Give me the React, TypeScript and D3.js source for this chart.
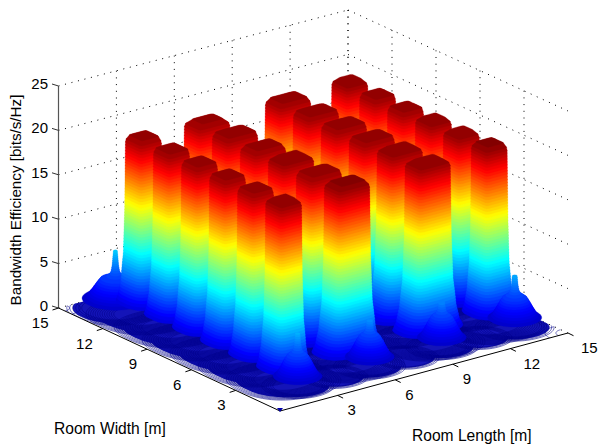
import React, { useMemo } from "react";
import * as d3 from "d3";

const zTicks = [0, 5, 10, 15, 20, 25];
const lengthTicks = [3, 6, 9, 12, 15];
const widthTicks = [3, 6, 9, 12, 15];
const pillarLengths = [2.3, 5.6, 9.8, 13.0];
const pillarStretch = [1, 1.45, 1.45, 1];
const pillarWidths = [2.75, 4.65, 6.55, 8.45, 10.35, 12.25];
const pillarPeaks = [
  [20.4, 20.5, 20.4, 20.5],
  [20.3, 20.3, 20.4, 20.4],
  [20.3, 20.4, 20.3, 20.4],
  [20.3, 20.2, 20.3, 20.3],
  [20.3, 20.3, 20.3, 20.3],
  [20.2, 20.1, 20.2, 20.4],
];
const spikeLengths = [2.3, 6.05, 9.8, 13.6, 1.8];
const spikeWidths = [1.8, 1.8, 1.8, 1.8, 13.5];
const spikePeaks = [6.0, 5.3, 5.2, 5.9, 6.6];
const spikeSpread = [1.0, 1.0, 1.0, 1.1, 1.35];
const edgeLengths = [4.2, 7.9, 11.7];
const edgeWidths = [1.75, 1.75, 1.75];

// silhouette profiles: height, half size, squareness
const pillarProfileZ = [1.6, 2.3, 4, 7, 12, 20];
const pillarProfileA = [1.05, 0.92, 0.78, 0.66, 0.6, 0.565];
const pillarProfileN = [2.6, 3, 4, 6, 8, 10];
const capDrop = [0.6, 0.35, 0.15, 0];
const capA = [0.56, 0.54, 0.48, 0.36];
const hillProfileZ = [1.2, 1.5, 2.2, 3, 3.6, 4.0, 4.3, 5, 6.6];
const hillProfileR = [1.0, 0.85, 0.7, 0.55, 0.42, 0.22, 0.17, 0.13, 0.08];
const floorRadiiPillar = [2.24, 2.15, 2.06, 1.97, 1.88, 1.79, 1.7, 1.61, 1.52, 1.43, 1.34, 1.25, 1.16];
const floorRadiiHill = [1.46, 1.37, 1.28, 1.19, 1.1, 1.01];
const floorRadiiEdge = [1.34, 1.25, 1.16, 1.07];
const floorBaseRadius = 1.9;
const cornerLengths = [0, 0, 15, 15];
const cornerWidths = [15, 15, 0, 0];
const cornerRadii = [0.45, 0.9, 0.5, 0.95];

const jetStops = [0, 0.125, 0.375, 0.625, 0.875, 1];
const jetColors = ["#00008f", "#0000ff", "#00ffff", "#ffff00", "#ff0000", "#800000"];

const W = 598;
const H = 448;
const O = [280, 411];
const L = [568, 333];
const Wd = [58.5, 308];
const B = [348, 232];
const skew = [B[0] - (L[0] + Wd[0] - O[0]), B[1] - (L[1] + Wd[1] - O[1])];
const xs = d3.scaleLinear().domain([0, 15]).range([0, 1]);
const ys = d3.scaleLinear().domain([0, 15]).range([0, 1]);
const zs = d3.scaleLinear().domain([0, 25]).range([0, 222]);
const project = (x: number, y: number, z = 0): [number, number] => {
  const u = xs(x);
  const v = ys(y);
  return [
    O[0] + u * (L[0] - O[0]) + v * (Wd[0] - O[0]) + u * v * skew[0],
    O[1] + u * (L[1] - O[1]) + v * (Wd[1] - O[1]) + u * v * skew[1] - zs(z),
  ];
};
const jet = d3.scaleLinear<string>().domain(jetStops).range(jetColors).interpolate(d3.interpolateRgb).clamp(true);
const colorAt = d3.scaleLinear().domain([0, 20.8]).range([0, 1]);
const zColor = (z: number) => jet(colorAt(z));
const lineGen = d3.line().curve(d3.curveLinearClosed);
const angles = d3.range(0, 2 * Math.PI, Math.PI / 32);

const ring = (cx: number, cy: number, z: number, a: number, n: number, stretch = 1) =>
  angles.map((t) => {
    const c = Math.cos(t);
    const s = Math.sin(t);
    const dx = stretch * a * Math.sign(c) * Math.pow(Math.abs(c), 2 / n);
    const dy = a * Math.sign(s) * Math.pow(Math.abs(s), 2 / n);
    return project(cx + dx, cy + dy, z);
  });
const footprint = (cx: number, cy: number, z: number, a: number, n: number) =>
  lineGen(ring(cx, cy, z, a, n)) as string;
const hullPath = (lo: [number, number][], hi: [number, number][]) =>
  lineGen(d3.polygonHull([...lo, ...hi]) as [number, number][]) as string;

const pillarA = d3.scaleLinear().domain(pillarProfileZ).range(pillarProfileA).clamp(true);
const pillarN = d3.scaleLinear().domain(pillarProfileZ).range(pillarProfileN).clamp(true);
const hillR = d3.scaleLinear().domain(hillProfileZ).range(hillProfileR).clamp(true);
const capScale = d3.scaleLinear().domain(capDrop).range(capA).clamp(true);

type Slice = { d: string; color: string };

function buildFloor() {
  const base: string[] = [];
  const rings: string[] = [];
  pillarLengths.forEach((x) =>
    pillarWidths.forEach((y) => {
      base.push(footprint(x, y, 0.05, floorBaseRadius, 2.4));
      floorRadiiPillar.forEach((r) => rings.push(footprint(x, y, 0.05, r, 2.4)));
    })
  );
  spikeLengths.forEach((x, i) => {
    base.push(footprint(x, spikeWidths[i], 0.1, floorRadiiHill[2] * spikeSpread[i], 2.1));
    floorRadiiHill.forEach((r) => rings.push(footprint(x, spikeWidths[i], 0.1, r * spikeSpread[i], 2.1)));
  });
  edgeLengths.forEach((x, i) => {
    base.push(footprint(x, edgeWidths[i], 0.05, floorRadiiEdge[2], 2.1));
    floorRadiiEdge.forEach((r) => rings.push(footprint(x, edgeWidths[i], 0.05, r, 2.1)));
  });
  cornerLengths.forEach((x, i) => rings.push(footprint(x, cornerWidths[i], 0, cornerRadii[i], 2)));
  return { base, rings };
}

function buildBodies() {
  const items: { depth: number; slices: Slice[] }[] = [];
  pillarLengths.forEach((x, ix) =>
    pillarWidths.forEach((y, iy) => {
      const peak = pillarPeaks[iy][ix];
      const slices: Slice[] = [];
      const at = (z: number) => {
        const drop = peak - z;
        const a = drop <= 0.6 ? capScale(drop) : pillarA(z);
        const shift = drop <= 0.3 ? 0.1 : 0; // the cap sits slightly towards the far corner
        return ring(x + shift, y + shift, z, a, pillarN(z), pillarStretch[ix]);
      };
      for (let z = 1.6; z < peak; z += 0.33) {
        slices.push({ d: hullPath(at(z), at(Math.min(z + 0.33, peak))), color: zColor(z + 0.33) });
      }
      items.push({ depth: project(x, y)[1], slices });
    })
  );
  spikeLengths.forEach((x, i) => {
    const y = spikeWidths[i];
    const slices: Slice[] = [];
    const at = (z: number) => ring(x, y, z, hillR(z) * (z < 3.7 ? spikeSpread[i] : 1), 2.1);
    for (let z = 1.2; z < spikePeaks[i]; z += 0.25) {
      slices.push({ d: hullPath(at(z), at(Math.min(z + 0.25, spikePeaks[i]))), color: zColor(z + 0.25) });
    }
    items.push({ depth: project(x, y)[1], slices });
  });
  items.sort((a, b) => a.depth - b.depth);
  return items;
}

const textStyle: React.CSSProperties = { fontFamily: "'Liberation Sans', Arial, sans-serif", fontSize: 15.6, fill: "#000" };
const tickStyle: React.CSSProperties = { ...textStyle, fontSize: 15 };
const dotted = { stroke: "#000", strokeWidth: 1, strokeDasharray: "1 5.7", fill: "none" };

export default function App() {
  const floor = useMemo(buildFloor, []);
  const bodies = useMemo(buildBodies, []);
  const clip = lineGen([project(0, 0), project(15, 0), project(15, 15), project(0, 15)]) as string;
  const seg = (a: [number, number], b: [number, number]) => `M${a[0]},${a[1]}L${b[0]},${b[1]}`;
  const corner = project(0, 0);
  return (
    <svg width={W} height={H} style={{ position: "absolute", left: 0, top: 0, background: "#fff" }}>
      <defs>
        <clipPath id="floorClip"><path d={clip} /></clipPath>
      </defs>
      {/* walls */}
      {zTicks.map((z) => (
        <g key={z}>
          <path d={seg(project(0, 15, z), project(15, 15, z))} {...dotted} />
          <path d={seg(project(15, 15, z), project(15, 0, z))} {...dotted} />
        </g>
      ))}
      {lengthTicks.map((x) => (
        <path key={"bx" + x} d={seg(project(x, 15, 0), project(x, 15, 25))} {...dotted} />
      ))}
      {widthTicks.map((y) => (
        <path key={"by" + y} d={seg(project(15, y, 0), project(15, y, 25))} {...dotted} />
      ))}
      {/* floor contours */}
      <g clipPath="url(#floorClip)">
        {floor.base.map((d, i) => (
          <path key={i} d={d} fill="#1414b8" />
        ))}
        {floor.rings.map((d, i) => (
          <path key={i} d={d} fill="none" stroke="#00008c" strokeWidth={0.55} />
        ))}
      </g>
      {/* surface bodies, far to near */}
      {bodies.map((b, i) => (
        <g key={i}>
          {b.slices.map((s, j) => (
            <path key={j} d={s.d} fill={s.color} stroke={s.color} strokeWidth={0.3} />
          ))}
        </g>
      ))}
      {/* axes */}
      <path d={seg(project(0, 15, 0), project(0, 15, 25))} stroke="#555" strokeWidth={1.2} fill="none" />
      <path d={seg(project(0, 0), project(15, 0))} stroke="#000" strokeWidth={1} fill="none" />
      <path d={seg(project(0, 0), project(0, 15))} stroke="#000" strokeWidth={1} fill="none" />
      <path d={`M${corner[0] - 3},${corner[1] - 3}h6l-3,4z`} fill="#0000a8" />
      {zTicks.map((z) => {
        const p = project(0, 15, z);
        return (
          <g key={"zt" + z}>
            <path d={`M${p[0]},${p[1]}l-6.5,-2`} stroke="#333" fill="none" />
            <text x={48} y={p[1] - 1} textAnchor="end" dominantBaseline="middle" style={tickStyle}>{z}</text>
          </g>
        );
      })}
      {lengthTicks.map((x) => {
        const p = project(x, 0);
        return (
          <g key={"lt" + x}>
            <path d={`M${p[0]},${p[1]}l5.5,2.7`} stroke="#000" fill="none" />
            <text x={p[0] + (x >= 12 ? 13 : 10)} y={p[1] + 16} dominantBaseline="middle" style={tickStyle}>{x}</text>
          </g>
        );
      })}
      {widthTicks.map((y) => {
        const p = project(0, y);
        return (
          <g key={"wt" + y}>
            <path d={`M${p[0]},${p[1]}l-6,2`} stroke="#000" fill="none" />
            <text x={p[0] - 10} y={p[1] + 16} textAnchor="end" dominantBaseline="middle" style={tickStyle}>{y}</text>
          </g>
        );
      })}
      <text x={54} y={434} style={textStyle}>Room Width [m]</text>
      <text x={412} y={441} style={textStyle}>Room Length [m]</text>
      <text transform="translate(21,200) rotate(-90)" textAnchor="middle" style={{ ...textStyle, fontSize: 15.2 }}>Bandwidth Efficiency [bits/s/Hz]</text>
    </svg>
  );
}
